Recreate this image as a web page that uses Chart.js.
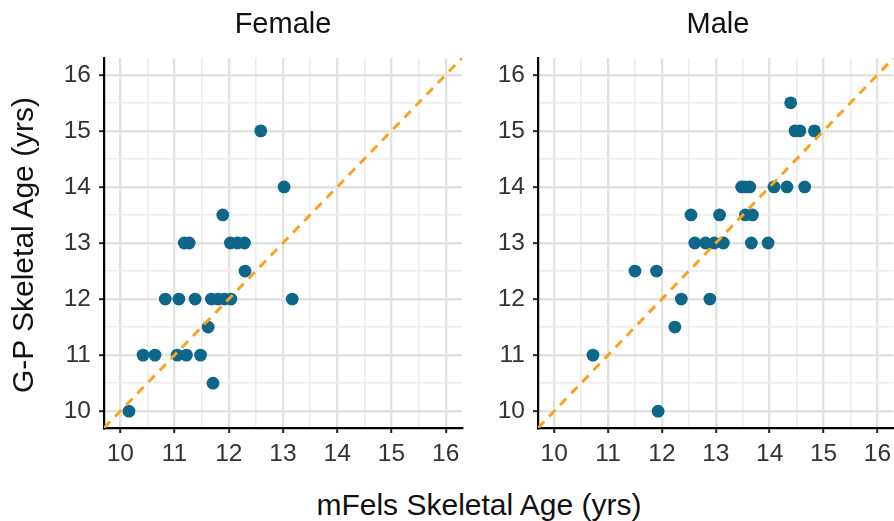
<!DOCTYPE html>
<html>
<head>
<meta charset="utf-8">
<script src="https://cdn.jsdelivr.net/npm/chart.js@4.4.1/dist/chart.umd.min.js"></script>
<style>
  html, body { margin: 0; padding: 0; background: #fff; overflow: hidden; }
  #wrap { position: relative; width: 894px; height: 521px; overflow: hidden;
          font-family: "Liberation Sans", Arial, sans-serif; }
  .cv { position: absolute; top: 0; }
  .lbl { position: absolute; color: #111; white-space: nowrap; text-align: center; }
  .strip { font-size: 29px; line-height: 29px; }
  .axt { font-size: 30px; line-height: 30px; }
</style>
</head>
<body>
<div id="wrap">
  <div class="cv" style="left:0;width:480px;height:480px"><canvas id="chart-female"></canvas></div>
  <div class="cv" style="left:480px;width:420px;height:480px"><canvas id="chart-male"></canvas></div>

  <div class="lbl strip" style="left:183px;top:9px;width:200px">Female</div>
  <div class="lbl strip" style="left:618px;top:9px;width:200px">Male</div>
  <div class="lbl axt" style="left:229px;top:490px;width:500px">mFels Skeletal Age (yrs)</div>
  <div class="lbl axt" style="left:-177px;top:230px;width:400px;transform:rotate(-90deg)">G-P Skeletal Age (yrs)</div>
</div>

<script>
// ── DATA ──────────────────────────────────────────────────────────
const femaleX = [10.16,
  10.42, 10.64, 11.05, 11.22, 11.48,
  11.71, 11.62,
  10.83, 11.08, 11.38, 11.68, 11.80, 11.92, 12.04, 13.17,
  12.30,
  11.18, 11.27, 12.03, 12.16, 12.29,
  11.89, 13.02, 12.59];
const femaleY = [10,
  11, 11, 11, 11, 11,
  10.5, 11.5,
  12, 12, 12, 12, 12, 12, 12, 12,
  12.5,
  13, 13, 13, 13, 13,
  13.5, 14, 15];

const maleX = [11.93, 10.72, 12.24,
  12.36, 12.89,
  11.50, 11.90,
  12.61, 12.81, 12.97, 13.14, 13.66, 13.97,
  12.54, 13.07, 13.55, 13.68,
  13.48, 13.55, 13.63, 14.08, 14.32, 14.65,
  14.47, 14.56, 14.83,
  14.39];
const maleY = [10, 11, 11.5,
  12, 12,
  12.5, 12.5,
  13, 13, 13, 13, 13, 13,
  13.5, 13.5, 13.5, 13.5,
  14, 14, 14, 14, 14, 14,
  15, 15, 15,
  15.5];

const tickLabels = [10, 11, 12, 13, 14, 15, 16];
const axisRange  = [9.7, 16.3];   // limits 10–16 with 5% expansion
const diagonal   = [9.7, 16.3];   // y = x reference line

// ── STYLE ─────────────────────────────────────────────────────────
const POINT  = "#0e6688";
const ORANGE = "#fba21c";
const TICKF  = { family: "Liberation Sans, Arial, sans-serif", size: 24.5 };

function isMajor(v) { return Math.abs(v - Math.round(v)) < 1e-6 && tickLabels.includes(Math.round(v)); }

function scaleOpts(axis, fitSize) {
  return {
    type: "linear",
    min: axisRange[0],
    max: axisRange[1],
    afterFit: s => { if (axis === "x") s.height = fitSize; else s.width = fitSize; },
    border: { display: true, color: "#000", width: 2.2 },
    grid: {
      drawTicks: true,
      tickLength: 5,
      color:     c => isMajor(c.tick.value) ? "#e2e2e2" : "#ececec",
      lineWidth: c => isMajor(c.tick.value) ? 2.4 : 1.6,
      tickColor: c => isMajor(c.tick.value) ? "#222" : "rgba(0,0,0,0)",
      tickWidth: 2,
    },
    ticks: {
      stepSize: 0.5,
      includeBounds: false,
      autoSkip: false,
      maxRotation: 0,
      padding: axis === "x" ? 7 : 8,
      color: "#333",
      font: TICKF,
      callback: v => isMajor(v) ? String(Math.round(v)) : "",
    },
  };
}

function makePanel(id, xs, ys, leftWidth, rightPad) {
  const pts = xs.map((x, i) => ({ x, y: ys[i] }));
  return new Chart(document.getElementById(id), {
    type: "scatter",
    data: {
      datasets: [
        {
          type: "line",
          data: diagonal.map(v => ({ x: v, y: v })),
          borderColor: ORANGE,
          borderWidth: 3,
          borderDash: [9, 7],
          pointRadius: 0,
          fill: false,
          order: 0,
        },
        {
          data: pts,
          backgroundColor: POINT,
          borderWidth: 0,
          pointRadius: 6.4,
          order: 1,
        },
      ],
    },
    options: {
      responsive: true,
      maintainAspectRatio: false,
      animation: false,
      layout: { padding: { top: 58, right: rightPad, left: 0, bottom: 0 } },
      plugins: { legend: { display: false }, tooltip: { enabled: false } },
      scales: {
        x: scaleOpts("x", 52),
        y: scaleOpts("y", leftWidth),
      },
    },
  });
}

makePanel("chart-female", femaleX, femaleY, 104, 18);
makePanel("chart-male",   maleX,   maleY,   58,  4);
</script>
</body>
</html>
